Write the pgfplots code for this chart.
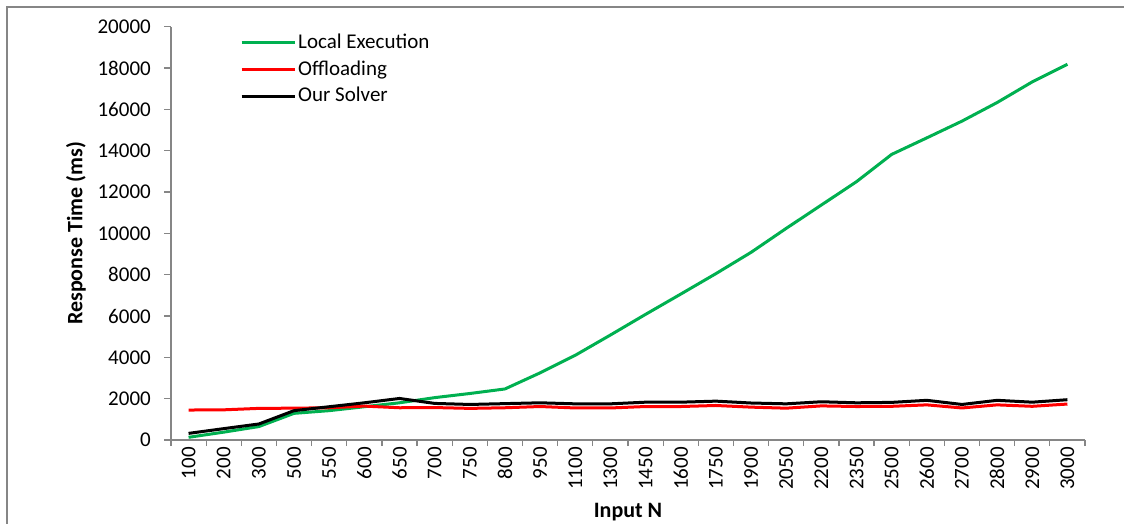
\documentclass[border=0pt]{standalone}
\usepackage{fontspec}
\setmainfont{Carlito}
\usepackage{pgfplots}
\pgfplotsset{compat=1.18}
\definecolor{axisgray}{HTML}{868686}
\definecolor{lgreen}{HTML}{00B050}
\begin{document}
\fontsize{21pt}{25pt}\selectfont
\begin{tikzpicture}
\useasboundingbox (0pt,0pt) rectangle (1124pt,524pt);
\draw[axisgray, line width=1.2pt] (7pt,-5pt) -- (7pt,517pt) -- (1130pt,517pt);
\begin{axis}[
  at={(171pt,84pt)}, anchor=south west,
  scale only axis, width=914pt, height=413.3pt,
  xmin=-0.5, xmax=25.5, ymin=0, ymax=20000,
  axis x line=bottom, axis y line=left,
  axis line style={-, draw=axisgray, line width=1.2pt},
  tick align=outside,
  scaled ticks=false,
  xtick={0,...,25},
  xticklabels={100,200,300,500,550,600,650,700,750,800,950,1100,1300,1450,1600,1750,1900,2050,2200,2350,2500,2600,2700,2800,2900,3000},
  minor xtick={-0.5,0.5,...,25.5},
  major x tick style={draw=none},
  minor x tick style={draw=axisgray, line width=1.2pt},
  ytick={0,2000,...,20000},
  major y tick style={draw=axisgray, line width=1.2pt},
  major tick length=7pt, minor tick length=6pt,
  /pgf/number format/assume math mode=true,
  /pgf/number format/1000 sep={},
  /pgf/number format/fixed,
  tick label style={font=\fontsize{21pt}{25pt}\selectfont, inner sep=0pt},
  xticklabel style={rotate=90, anchor=east},
  yticklabel style={anchor=east, xshift=-13pt},
  every axis x label/.style={at={(axis description cs:0.5,-0.1742)}, anchor=center, font=\fontsize{22pt}{26pt}\selectfont\bfseries},
  every axis y label/.style={at={(axis description cs:-0.1039,0.5)}, anchor=center, rotate=90, font=\fontsize{22pt}{26pt}\selectfont\bfseries},
  xlabel={Input N},
  ylabel={Response Time (ms)},
  legend style={at={(rel axis cs:0.0755,0.988)}, anchor=north west, draw=none, fill=none, inner sep=0pt,
    font=\fontsize{21pt}{25pt}\selectfont, row sep=5pt, nodes={inner sep=2pt}},
  legend cell align=left,
  legend image code/.code={\draw[#1] (0pt,0pt) -- (53pt,0pt);},
  every axis plot/.append style={line width=3pt, line join=round},
]
\addplot[lgreen] coordinates {
(0,130) (1,380) (2,650) (3,1290) (4,1420) (5,1610) (6,1800) (7,2050) (8,2250) (9,2470)
(10,3250) (11,4100) (12,5080) (13,6080) (14,7060) (15,8050) (16,9080) (17,10240) (18,11370) (19,12500)
(20,13820) (21,14620) (22,15430) (23,16330) (24,17330) (25,18180)};
\addlegendentry{Local Execution}
\addplot[red] coordinates {
(0,1450) (1,1460) (2,1530) (3,1540) (4,1560) (5,1640) (6,1560) (7,1570) (8,1530) (9,1560)
(10,1620) (11,1550) (12,1550) (13,1620) (14,1620) (15,1670) (16,1590) (17,1540) (18,1650) (19,1620)
(20,1630) (21,1700) (22,1550) (23,1700) (24,1630) (25,1740)};
\addlegendentry{Offloading}
\addplot[black] coordinates {
(0,320) (1,550) (2,775) (3,1420) (4,1610) (5,1800) (6,2010) (7,1770) (8,1720) (9,1760)
(10,1800) (11,1750) (12,1750) (13,1830) (14,1830) (15,1880) (16,1790) (17,1750) (18,1850) (19,1800)
(20,1820) (21,1920) (22,1720) (23,1920) (24,1830) (25,1950)};
\addlegendentry{Our Solver}
\end{axis}
\end{tikzpicture}
\end{document}
